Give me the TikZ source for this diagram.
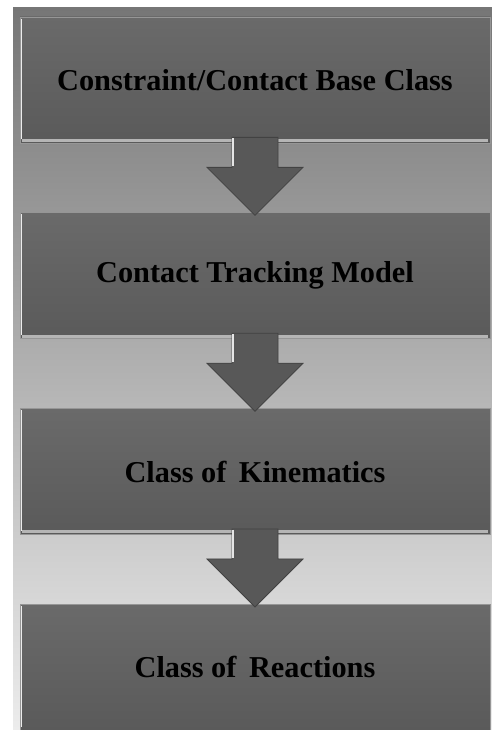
\documentclass[tikz,border=0pt]{standalone}
\usepackage{fontspec}
\setmainfont{Liberation Serif}
\usetikzlibrary{positioning, calc}
\definecolor{paneltop}{RGB}{118,118,118}
\definecolor{panelmid}{RGB}{194,194,194}
\definecolor{panelbot}{RGB}{236,236,236}
\definecolor{boxtop}{RGB}{106,106,106}
\definecolor{boxbot}{RGB}{90,90,90}
\definecolor{rimgrey}{RGB}{150,150,150}
\definecolor{arrowgrey}{RGB}{88,88,88}

\begin{document}
\begin{tikzpicture}[x=1pt, y=1pt,
    layer/.style={rectangle, minimum width=470pt, minimum height=126pt, inner sep=0pt,
                  top color=boxtop, bottom color=boxbot, draw=rimgrey, line width=0.8pt,
                  font=\fontsize{30.3}{36}\selectfont\bfseries, text=black},
    rimlit/.style={draw=white!85!gray, line width=1.6pt},
    rimlow/.style={draw=rimgrey!70!white, line width=3pt},
    blockarrow/.style={fill=arrowgrey, draw=arrowgrey!75!black, line width=0.8pt},
    shaftlit/.style={draw=white!80!gray, line width=1.4pt}
  ]
  \useasboundingbox (0,0) rectangle (492,730);
  \shade[top color=paneltop, middle color=panelmid, bottom color=panelbot]
        (13,0) rectangle (492,722);

  \node[layer] (cbase) at (255,650) {Constraint/Contact Base Class};
  \node[layer, below=69pt of cbase] (track) {Contact Tracking Model};
  \node[layer, below=69pt of track] (kinem) {Class of\, Kinematics};
  \node[layer, below=69pt of kinem] (react) {Class of\, Reactions};

  \foreach \n in {cbase,track,kinem} {
     \draw[rimlow] ([xshift=2pt,yshift=3pt]\n.south west) -- ([xshift=-2pt,yshift=3pt]\n.south east); }
  \foreach \n in {cbase,track,kinem,react} {
     \draw[rimlit] ([xshift=2pt,yshift=-2pt]\n.north west) -- ([xshift=2pt,yshift=4pt]\n.south west); }

  % block arrows between the layers
  \foreach \u/\l in {cbase/track, track/kinem, kinem/react} {
     \draw[blockarrow] ([xshift=-23pt,yshift=6pt]\u.south) -- ([xshift=-23pt,yshift=45pt]\l.north)
        -- ([xshift=-48pt,yshift=45pt]\l.north) -- ([yshift=-3pt]\l.north)
        -- ([xshift=48pt,yshift=45pt]\l.north) -- ([xshift=23pt,yshift=45pt]\l.north)
        -- ([xshift=23pt,yshift=6pt]\u.south) -- cycle;
     \draw[shaftlit] ([xshift=-22pt,yshift=5pt]\u.south) -- ([xshift=-22pt,yshift=46pt]\l.north); }
\end{tikzpicture}
\end{document}
